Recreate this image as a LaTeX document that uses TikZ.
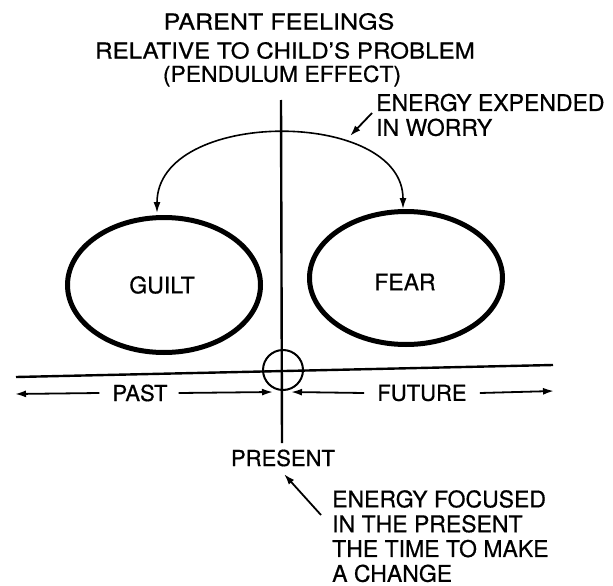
\documentclass[tikz,border=0pt]{standalone}
\usepackage{fontspec}
\setmainfont{TeX Gyre Heros}[FakeBold=0.6]
\usetikzlibrary{arrows.meta,shapes.geometric}
\begin{document}
\begin{tikzpicture}[x=1pt,y=-1pt,
  lbl/.style={font=\fontsize{23}{24.8}\selectfont, inner sep=0pt},
  small/.style={font=\fontsize{22}{24.8}\selectfont, inner sep=0pt},
  ttl/.style={font=\fontsize{22}{27}\selectfont, inner sep=0pt},
  ell/.style={draw, ellipse, line width=5pt, inner sep=0pt},
  axis/.style={line width=2.4pt},
  arr/.style={line width=1.8pt, -{Latex[length=11pt,width=7pt]}},
  darr/.style={line width=1.6pt, {Latex[length=11pt,width=7pt]}-{Latex[length=11pt,width=7pt]}}
]
\useasboundingbox (0,0) rectangle (613,586);
% title
\node[ttl] (title1) at (279,21.5) {\scalebox{1.14}[1]{PARENT FEELINGS}};
\node[ttl] (title2) at (285,50.5) {\scalebox{1.1}[1]{RELATIVE TO CHILD'S PROBLEM}};
\node[ttl] (title3) at (282,76) {\scalebox{1.04}[1]{(PENDULUM EFFECT)}};
% axes
\coordinate (vt) at (281,100);
\coordinate (vb) at (282,443);
\coordinate (hl) at (16,377);
\coordinate (hr) at (553,365);
\draw[axis] (vt) -- (vb);
\draw[axis] (hl) -- (hr);
\node[circle, draw, line width=2pt, minimum size=40pt, inner sep=0pt] (now) at (283,370) {};
% ellipses
\node[ell, minimum width=193pt, minimum height=135pt] (guilt) at (164,285) {};
\node[ell, minimum width=193pt, minimum height=133pt] (fear) at (406,278) {};
\node[lbl] (guilttxt) at (162,285) {GUILT};
\node[lbl] (feartxt) at (405,282) {FEAR};
% worry arc
\coordinate (aL) at (157,213);
\coordinate (aR) at (403,209);
\draw[darr] (aL) .. controls (157,108) and (403,108) .. (aR);
\node[lbl, anchor=west, align=left] (worry) at (376,115) {ENERGY EXPENDED\\IN WORRY};
\coordinate (wt) at (372,113);
\coordinate (wh) at (350,136);
\draw[arr] (wt) -- (wh);
% past / future
\node[small] (past) at (140,393) {PAST};
\node[small] (future) at (422,393) {FUTURE};
\coordinate (pl) at (15,394);
\coordinate (pr) at (273,392);
\coordinate (fl) at (291,392);
\coordinate (fr) at (554,391);
\draw[arr] ([xshift=-13pt]past.west) -- (pl);
\draw[arr] ([xshift=11pt]past.east) -- (pr);
\draw[arr] ([xshift=-13pt]future.west) -- (fl);
\draw[arr] ([xshift=13pt]future.east) -- (fr);
% present
\node[small] (present) at (283,458) {PRESENT};
\node[lbl, anchor=north west, align=left] (focus) at (332,490) {ENERGY FOCUSED\\IN THE PRESENT\\THE TIME TO MAKE\\A CHANGE};
\coordinate (ft) at (321,515);
\coordinate (fh) at (284,474);
\draw[arr] (ft) -- (fh);
\end{tikzpicture}
\end{document}
